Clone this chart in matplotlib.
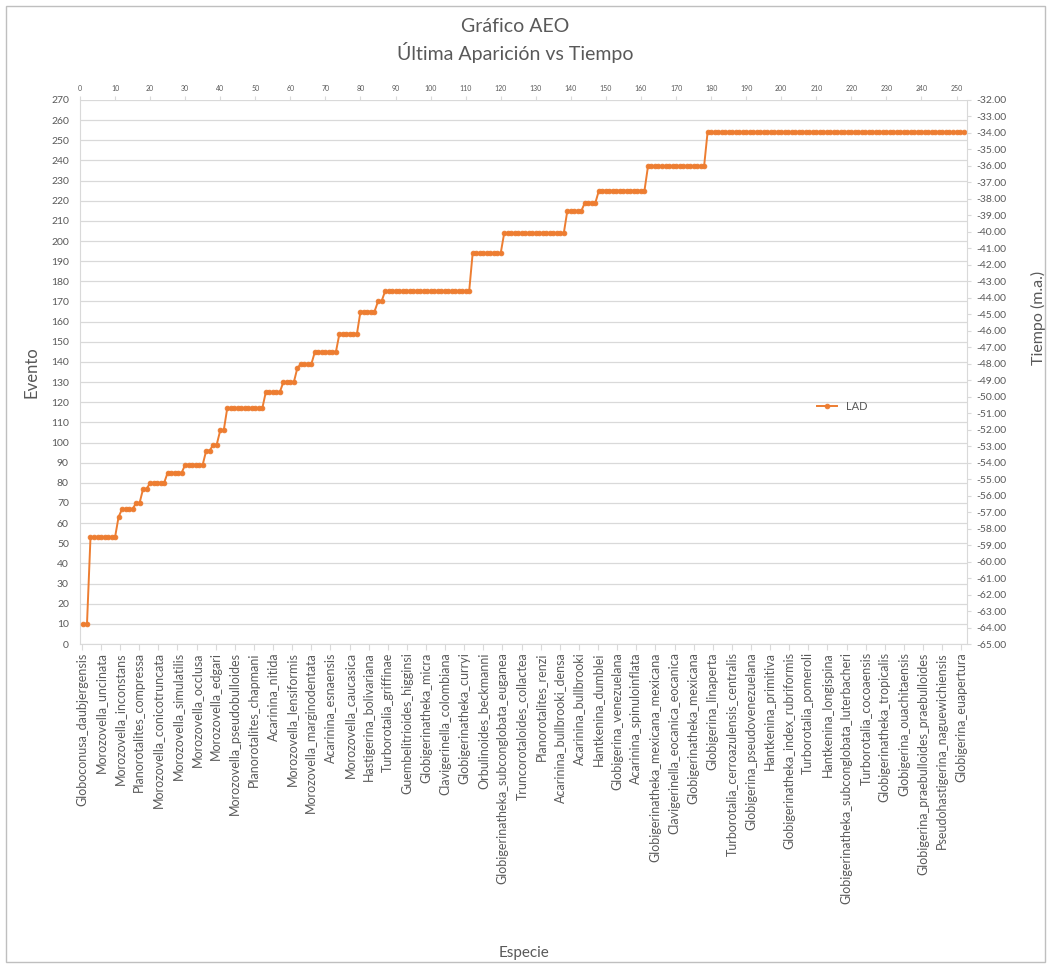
import numpy as np
import matplotlib.pyplot as plt
from matplotlib.patches import Rectangle

plt.rcParams['font.family'] = ['Lato', 'DejaVu Sans']

# LAD event number per species
lad_levels = [10, 53, 63, 67, 70, 77, 80, 85, 89, 96, 99, 106, 117, 125, 130,
              137, 139, 145, 154, 165, 170, 175, 194, 204, 215, 219, 225, 237, 254]
lad_counts = [2, 8, 1, 4, 2, 2, 5, 5, 6, 2, 2, 2, 11, 5, 4,
              1, 4, 7, 6, 5, 2, 25, 9, 18, 5, 4, 14, 17, 74]

lad = np.repeat(lad_levels, lad_counts)
pos = np.arange(1, len(lad) + 1)

# species labels shown on the category axis (every 5th category)
n_categories = 232
species_labels = [
    "Globoconusa_daubjergensis", "Morozovella_uncinata", "Morozovella_inconstans",
    "Planorotalites_compressa", "Morozovella_conicotruncata", "Morozovella_simulatilis",
    "Morozovella_occlusa", "Morozovella_edgari", "Morozovella_pseudobulloides",
    "Planorotalites_chapmani", "Acarinina_nitida", "Morozovella_lensiformis",
    "Morozovella_marginodentata", "Acarinina_esnaensis", "Morozovella_caucasica",
    "Hastigerina_bolivariana", "Turborotalia_griffinae", "Guembelitrioides_higginsi",
    "Globigerinatheka_micra", "Clavigerinella_colombiana", "Globigerinatheka_curryi",
    "Orbulinoides_beckmanni", "Globigerinatheka_subconglobata_euganea",
    "Truncorotaloides_collactea", "Planorotalites_renzi", "Acarinina_bullbrooki_densa",
    "Acarinina_bullbrooki", "Hantkenina_dumblei", "Globigerina_venezuelana",
    "Acarinina_spinuloinflata", "Globigerinatheka_mexicana_mexicana",
    "Clavigerinella_eocanica_eocanica", "Globigerinatheka_mexicana",
    "Globigerina_linaperta", "Turborotalia_cerroazulensis_centralis",
    "Globigerina_pseudovenezuelana", "Hantkenina_primitiva",
    "Globigerinatheka_index_rubriformis", "Turborotalia_pomeroli",
    "Hantkenina_longispina", "Globigerinatheka_subconglobata_luterbacheri",
    "Turborotalia_cocoaensis", "Globigerinatheka_tropicalis",
    "Globigerina_ouachitaensis", "Globigerina_praebulloides_praebulloides",
    "Pseudohastigerina_naguewichiensis", "Globigerina_euapertura",
]

event_ticks = np.arange(0, 271, 10)
time_ticks = np.arange(-65, -31, 1)
top_ticks = np.arange(0, 251, 10)

text_color = "#595959"
grid_color = "#D9D9D9"
orange = "#ED7D31"

fig = plt.figure(figsize=(10.51, 9.66), dpi=100)
fig.patches.append(Rectangle((0.006, 0.004), 0.988, 0.99, transform=fig.transFigure,
                             fill=False, edgecolor="#BFBFBF", linewidth=1.0))

ax = fig.add_axes([0.0761, 0.3333, 0.8440, 0.5632])

# -------- Bottom category axis + left event axis --------
ax.set_xlim(0, n_categories)
ax.set_ylim(0, 270)
label_pos = np.arange(len(species_labels)) * 5 + 0.5
ax.set_xticks(label_pos)
ax.set_xticklabels(species_labels, rotation=90, fontsize=9, color=text_color)
ax.set_yticks(event_ticks)
ax.set_yticklabels([str(v) for v in event_ticks], fontsize=7.5, color=text_color)
ax.tick_params(axis="x", length=4, color=grid_color, pad=2)
ax.tick_params(axis="y", length=0, pad=8)
ax.grid(axis="y", color=grid_color, linewidth=0.9)
ax.set_axisbelow(True)
for side in ["top", "right"]:
    ax.spines[side].set_visible(False)
ax.spines["left"].set_color(grid_color)
ax.spines["bottom"].set_color(grid_color)
ax.set_ylabel("Evento", fontsize=12, color=text_color, labelpad=8)
ax.set_xlabel("Especie", fontsize=11, color=text_color)
ax.xaxis.set_label_coords(0.5, -0.555)

# -------- Top value axis carrying the LAD series --------
ax_top = ax.twiny()
ax_top.set_xlim(0, 253)
ax_top.set_xticks(top_ticks)
ax_top.set_xticklabels([str(v) for v in top_ticks], fontsize=5, color=text_color)
ax_top.tick_params(axis="x", length=3, color=grid_color, pad=3)
for side in ["top", "right", "left", "bottom"]:
    ax_top.spines[side].set_visible(False)
line, = ax_top.plot(pos, lad, color=orange, linewidth=1.4, marker="o",
                    markersize=3.4, markeredgewidth=0.6, label="LAD")

# -------- Right time axis --------
ax_right = ax.twinx()
ax_right.set_ylim(-65, -32)
ax_right.set_yticks(time_ticks)
ax_right.set_yticklabels([f"{v:.2f}" for v in time_ticks], fontsize=7.5, color=text_color)
ax_right.tick_params(axis="y", length=3, color=grid_color, pad=4)
for side in ["top", "left", "bottom"]:
    ax_right.spines[side].set_visible(False)
ax_right.spines["right"].set_color(grid_color)
ax_right.set_ylabel("Tiempo (m.a.)", fontsize=11.5, color=text_color)
ax_right.yaxis.set_label_coords(1.072, 0.6)

ax_top.legend(handles=[line], loc="center left", bbox_to_anchor=(0.82, 0.436),
              frameon=False, fontsize=8, labelcolor=text_color, handlelength=1.8)

# -------- Titles --------
fig.text(0.49, 0.973, "Gráfico AEO", ha="center", va="center",
         fontsize=14, color=text_color)
fig.text(0.49, 0.946, "Última Aparición vs Tiempo", ha="center", va="center",
         fontsize=14, color=text_color)

fig.savefig("out.png", dpi=100)
